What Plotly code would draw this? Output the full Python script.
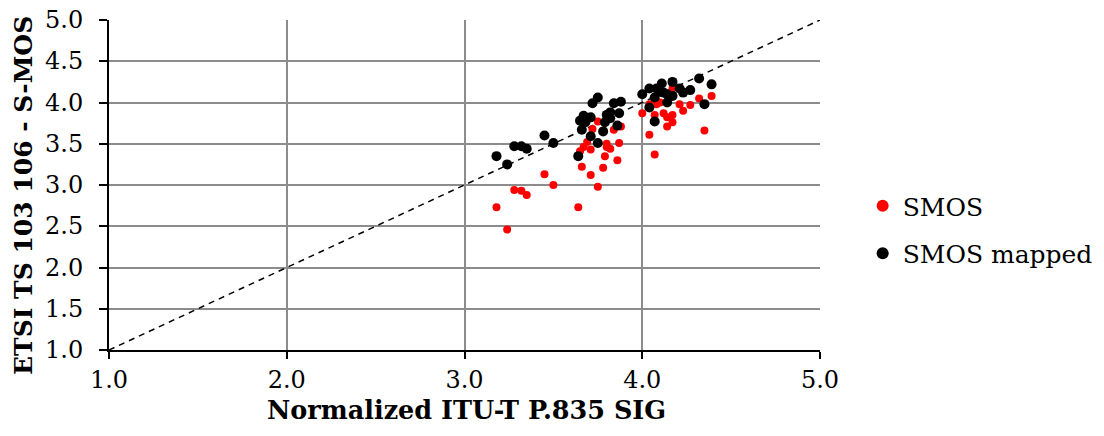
import plotly.graph_objects as go

# SMOS (red) points
smos_x = [3.18, 3.24, 3.28, 3.32, 3.35, 3.45, 3.50, 3.64, 3.66, 3.67, 3.65, 3.71, 3.71,
          3.72, 3.75, 3.75, 3.78, 3.79, 3.80, 3.82, 3.84, 3.86, 3.87, 3.88, 4.00, 4.04,
          4.07, 4.04, 4.08, 4.07, 4.12, 4.14, 4.14, 4.17, 4.17, 4.17, 4.21, 4.23, 4.27,
          4.35, 4.39, 4.32, 3.69, 3.80, 4.10]
smos_y = [2.73, 2.46, 2.94, 2.93, 2.88, 3.13, 3.00, 2.73, 3.22, 3.46, 3.41, 3.12, 3.43,
          3.68, 2.98, 3.77, 3.21, 3.35, 3.46, 3.44, 3.67, 3.30, 3.51, 3.71, 3.87, 3.61,
          3.37, 3.98, 3.98, 3.85, 3.87, 3.71, 3.82, 3.76, 3.85, 4.17, 3.98, 3.90, 3.97,
          3.66, 4.08, 4.05, 3.52, 3.50, 4.00]

# SMOS mapped (black) points
mapped_x = [3.18, 3.24, 3.28, 3.32, 3.35, 3.45, 3.50, 3.64, 3.66, 3.67, 3.65, 3.71, 3.71,
            3.72, 3.75, 3.75, 3.78, 3.79, 3.80, 3.82, 3.84, 3.86, 3.87, 3.88, 4.00, 4.04,
            4.07, 4.04, 4.08, 4.07, 4.11, 4.14, 4.14, 4.17, 4.17, 4.12, 4.21, 4.23, 4.27,
            4.35, 4.39, 4.32, 3.68, 3.82, 4.10]
mapped_y = [3.35, 3.25, 3.47, 3.47, 3.44, 3.60, 3.51, 3.35, 3.67, 3.84, 3.78, 3.59, 3.82,
            3.99, 3.51, 4.06, 3.65, 3.76, 3.85, 3.81, 3.99, 3.72, 3.87, 4.01, 4.10, 3.94,
            3.77, 4.17, 4.17, 4.06, 4.23, 4.00, 4.10, 4.08, 4.25, 4.12, 4.17, 4.12, 4.15,
            3.98, 4.22, 4.29, 3.76, 3.88, 4.13]

# reference diagonal y = x
diag = [1.0, 5.0]

x_ticks = [1.0, 2.0, 3.0, 4.0, 5.0]
y_ticks = [1.0, 1.5, 2.0, 2.5, 3.0, 3.5, 4.0, 4.5, 5.0]

x_title = "Normalized ITU-T P.835 SIG"
y_title = "ETSI TS 103 106 - S-MOS"

FONT = "DejaVu Serif"

fig = go.Figure()
fig.add_trace(go.Scatter(x=diag, y=diag, mode="lines", showlegend=False,
                         line=dict(color="black", width=1.5, dash="6px,5px"),
                         hoverinfo="skip"))
fig.add_trace(go.Scatter(x=smos_x, y=smos_y, mode="markers", name="SMOS",
                         legendgroup="a",
                         marker=dict(color="#ff0000", size=8, line=dict(width=0))))
fig.add_trace(go.Scatter(x=mapped_x, y=mapped_y, mode="markers", name="SMOS mapped",
                         legendgroup="b",
                         marker=dict(color="#000000", size=10, line=dict(width=0))))

# y tick labels placed at the axis values (slightly farther from the axis than default)
y_label_annots = [
    dict(text=f"{v:.1f}", xref="paper", yref="y", x=0, y=v, xanchor="right",
         yanchor="middle", xshift=-24, showarrow=False,
         font=dict(family=FONT, size=24, color="black"))
    for v in y_ticks
]

fig.update_layout(
    width=1104, height=436,
    margin=dict(l=109, r=284, t=20, b=86, autoexpand=False),
    plot_bgcolor="white", paper_bgcolor="white",
    font=dict(family=FONT, size=24, color="black"),
    legend=dict(x=1.06, y=0.365, xanchor="left", yanchor="middle",
                font=dict(family=FONT, size=25, color="black"),
                tracegroupgap=12, itemsizing="constant",
                bgcolor="rgba(0,0,0,0)"),
    xaxis=dict(range=[1, 5], tickvals=x_ticks, ticktext=[f"{v:.1f}" for v in x_ticks],
               showgrid=True, gridcolor="#8c8c8c", gridwidth=2,
               showline=True, linecolor="black", linewidth=1.5,
               ticks="outside", ticklen=7, tickcolor="black", tickwidth=1.5,
               automargin=False,
               zeroline=False, tickfont=dict(size=24)),
    yaxis=dict(range=[1, 5], tickvals=y_ticks, showticklabels=False,
               showgrid=True, gridcolor="#8c8c8c", gridwidth=2,
               showline=True, linecolor="black", linewidth=1.5,
               ticks="outside", ticklen=8, tickcolor="black", tickwidth=1.5,
               automargin=False, zeroline=False),
    annotations=y_label_annots + [
        dict(text=f"<b>{x_title}</b>", xref="paper", yref="paper",
             x=(466 - 109) / 711, y=(350 - 410) / 330, xanchor="center", yanchor="middle",
             showarrow=False, font=dict(family=FONT, size=25.5, color="black")),
        dict(text=f"<b>{y_title}</b>", xref="paper", yref="paper", textangle=-90,
             x=(23 - 109) / 711, y=(350 - 196) / 330, xanchor="center", yanchor="middle",
             showarrow=False, font=dict(family=FONT, size=25, color="black")),
    ],
)

fig.write_html("out.html")
